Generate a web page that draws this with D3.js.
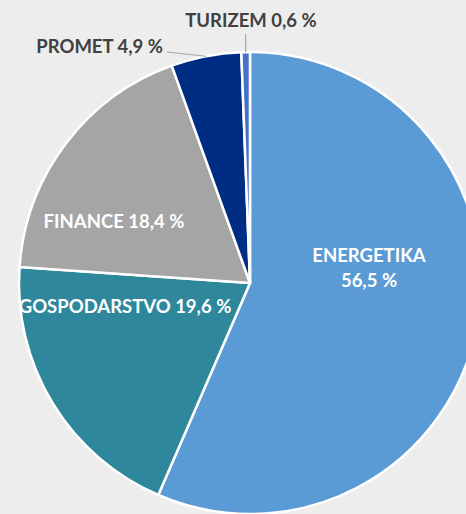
<html>
<head>
<meta charset="utf-8" />
<title>Delež po področjih</title>
<script src="https://cdn.jsdelivr.net/npm/d3@7"></script>
<style>
  body { margin: 0; background: #ededed; }
  text { font-family: Lato, "Open Sans", sans-serif; font-weight: bold; }
</style>
</head>
<body>
<script>
var categories = ["ENERGETIKA", "GOSPODARSTVO", "FINANCE", "PROMET", "TURIZEM"];
var values = [56.5, 19.6, 18.4, 4.9, 0.6];
var valueLabels = ["56,5 %", "19,6 %", "18,4 %", "4,9 %", "0,6 %"];
var colors = ["#5b9bd5", "#2e879b", "#a5a5a5", "#002d84", "#4472c4"];

var width = 466, height = 514;
var cx = 250, cy = 283, radius = 231;
var fontSize = "18.5px";

// label anchors relative to the pie centre
var labelLayout = {
  "ENERGETIKA":   {x: 119, y: -17, inside: true, twoLines: true},
  "GOSPODARSTVO": {x: -125, y: 25, inside: true},
  "FINANCE":      {x: -136, y: -60, inside: true},
  "PROMET":       {x: -87, y: -230, inside: false, anchor: "end"},
  "TURIZEM":      {x: 1, y: -256, inside: false, anchor: "middle"}
};

var data = categories.map(function(c, i) {
  return {name: c, value: values[i], label: valueLabels[i], color: colors[i]};
});

var svg = d3.select("body").append("svg")
  .attr("width", width)
  .attr("height", height)
  .attr("xmlns", "http://www.w3.org/2000/svg");

svg.append("rect").attr("width", width).attr("height", height).attr("fill", "#ededed");

var g = svg.append("g").attr("transform", "translate(" + cx + "," + cy + ")");

var pie = d3.pie().sort(null).value(function(d) { return d.value; });
var arc = d3.arc().innerRadius(0).outerRadius(radius);
var arcs = pie(data);

g.selectAll("path.slice")
  .data(arcs)
  .enter().append("path")
  .attr("class", "slice")
  .attr("d", arc)
  .attr("fill", function(d) { return d.data.color; })
  .attr("stroke", "#ffffff")
  .attr("stroke-width", 2.5)
  .attr("stroke-linejoin", "round");

arcs.forEach(function(d) {
  var L = labelLayout[d.data.name];
  if (L.inside) {
    var t = g.append("text")
      .attr("x", L.x)
      .attr("y", L.y)
      .attr("text-anchor", "middle")
      .attr("fill", "#ffffff")
      .attr("font-size", fontSize);
    if (L.twoLines) {
      t.append("tspan").attr("x", L.x).attr("dy", "-0.2em").text(d.data.name);
      t.append("tspan").attr("x", L.x).attr("dy", "1.35em").text(d.data.label);
    } else {
      t.attr("dominant-baseline", "middle").text(d.data.name + " " + d.data.label);
    }
  } else {
    var mid = (d.startAngle + d.endAngle) / 2;
    var ex = Math.sin(mid) * radius, ey = -Math.cos(mid) * radius;
    var pts = L.anchor === "end"
      ? [[L.x + 4, L.y - 1], [ex, ey]]
      : [[ex, L.y + 7], [ex, ey]];
    g.append("path")
      .attr("d", d3.line()(pts))
      .attr("fill", "none")
      .attr("stroke", "#a6a6a6")
      .attr("stroke-width", 1.2);
    g.append("text")
      .attr("x", L.x)
      .attr("y", L.y)
      .attr("text-anchor", L.anchor)
      .attr("fill", "#404040")
      .attr("font-size", fontSize)
      .text(d.data.name + " " + d.data.label);
  }
});
</script>
</body>
</html>
